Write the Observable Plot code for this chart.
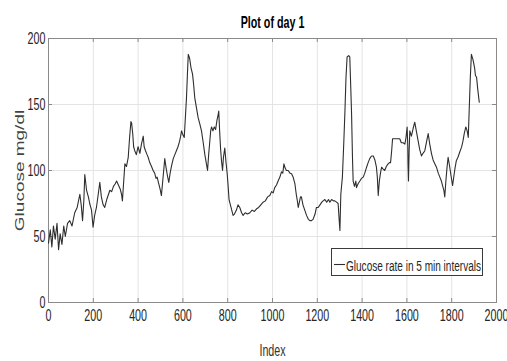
<!DOCTYPE html>
<html>
<head>
<meta charset="utf-8">
<script src="https://cdn.jsdelivr.net/npm/d3@7"></script>
<script src="https://cdn.jsdelivr.net/npm/@observablehq/plot@0.6"></script>
<style>
  html, body { margin: 0; padding: 0; background: white; }
  #chart { position: relative; width: 507px; height: 361px; }
</style>
</head>
<body>
<div id="chart"></div>
<script>
// ---- data ----
const sampleIndex = [
  0, 8, 15, 22, 30, 38, 45, 52, 60, 68, 75, 85, 95, 105, 117, 128, 140, 146, 152, 158,
  162, 170, 178, 184, 192, 199, 206, 214, 222, 229, 236, 244, 251, 260, 268, 274, 282, 290, 298, 304,
  312, 320, 326, 330, 335, 341, 348, 356, 362, 368, 371, 376, 380, 385, 392, 400, 408, 415, 423, 427,
  433, 440, 445, 452, 460, 467, 474, 480, 485, 492, 498, 504, 510, 519, 525, 531, 537, 543, 550, 557,
  564, 571, 578, 585, 590, 594, 600, 606, 611, 616, 620, 624, 630, 636, 643, 648, 653, 660, 668, 676,
  683, 690, 698, 704, 710, 715, 720, 724, 728, 734, 740, 746, 752, 757, 760, 764, 768, 772, 777, 781,
  787, 792, 798, 802, 806, 812, 818, 824, 830, 839, 846, 854, 862, 869, 878, 888, 899, 909, 919, 929,
  938, 948, 958, 968, 978, 988, 996, 1003, 1010, 1018, 1025, 1033, 1040, 1046, 1051, 1056, 1062, 1070, 1078, 1085,
  1092, 1100, 1106, 1110, 1115, 1120, 1125, 1129, 1136, 1144, 1152, 1160, 1167, 1174, 1181, 1190, 1196, 1204, 1212, 1220,
  1226, 1234, 1242, 1250, 1256, 1264, 1272, 1278, 1286, 1293, 1297, 1301, 1305, 1312, 1318, 1323, 1328, 1333, 1340, 1345,
  1349, 1353, 1357, 1360, 1366, 1372, 1375, 1382, 1390, 1397, 1405, 1412, 1420, 1427, 1434, 1442, 1450, 1457, 1464, 1468,
  1472, 1477, 1482, 1487, 1494, 1501, 1508, 1516, 1522, 1527, 1532, 1536, 1545, 1555, 1568, 1575, 1583, 1591, 1596, 1601,
  1604, 1605, 1607, 1610, 1613, 1620, 1628, 1635, 1642, 1650, 1657, 1665, 1672, 1680, 1688, 1695, 1702, 1710, 1717, 1725,
  1732, 1740, 1747, 1754, 1760, 1765, 1769, 1774, 1779, 1784, 1790, 1797, 1804, 1810, 1815, 1821, 1828, 1836, 1844, 1850,
  1856, 1863, 1869, 1874, 1878, 1883, 1888, 1895, 1902, 1906, 1911, 1916, 1923
];
const glucose = [
  45, 55, 42, 58, 48, 60, 40, 52, 44, 58, 50, 60, 62, 58, 68, 72, 82, 74, 62, 78,
  97, 85, 80, 75, 70, 57, 66, 72, 82, 91, 80, 74, 72, 78, 82, 85, 84, 88, 90, 92,
  89, 86, 82, 77, 90, 105, 103, 110, 125, 137, 136, 128, 118, 115, 112, 118, 113, 120, 126, 118,
  115, 112, 110, 106, 103, 100, 98, 94, 95, 90, 86, 81, 92, 109, 102, 96, 91, 98, 104, 109,
  112, 115, 118, 122, 126, 130, 127, 125, 140, 155, 172, 188, 185, 178, 173, 165, 155, 148, 140, 135,
  130, 122, 112, 106, 100, 112, 122, 130, 133, 130, 133, 131, 138, 142, 145, 130, 117, 108, 100, 110,
  117, 107, 97, 88, 78, 74, 70, 66, 67, 70, 74, 72, 68, 66, 68, 67, 68, 70, 69, 71,
  72, 74, 76, 77, 80, 81, 84, 83, 87, 89, 92, 95, 99, 98, 105, 102, 100, 100, 98, 97.5,
  95, 90, 82, 78, 72, 76, 80, 80, 74, 70, 66, 63, 62, 62, 63, 67, 72, 72, 74, 76,
  77, 78, 76, 78, 76, 78, 77, 77, 76, 75, 64, 54.5, 82, 95, 120, 143, 170, 186, 187, 186,
  165, 143, 110, 92, 88, 92, 87, 90, 92, 94, 95, 98, 102.5, 106, 109, 111, 111, 108, 102.5, 95,
  81, 92, 98, 102.5, 101, 100, 103, 105, 106, 106, 115, 124, 124, 124, 124, 121, 121, 120, 125, 133,
  118, 105, 92, 115, 130, 126, 132, 136.6, 130, 122.7, 116, 111, 113, 115, 122, 128, 120, 112.6, 108, 105,
  102.5, 98, 95, 92, 88, 85, 80, 92, 102, 110, 104, 96, 88.6, 96, 102, 107.6, 110, 114, 117.7, 122,
  128, 133, 130, 125, 145, 170, 188, 184, 178, 172, 170.7, 162, 151.7
];
const xTicks = [0, 200, 400, 600, 800, 1000, 1200, 1400, 1600, 1800, 2000];
const yTicks = [0, 50, 100, 150, 200];
const titleText = "Plot of day 1";
const xLabel = "Index";
const yLabel = "Glucose mg/dl";
const legendLabel = "Glucose rate in 5 min intervals";

const data = sampleIndex.map((i, k) => ({i, v: glucose[k]}));

const FONT = "'Liberation Sans', Arial, Helvetica, sans-serif";
const SX = 0.67; // horizontal squeeze of the reference's text

const chart = Plot.plot({
  width: 507,
  height: 361,
  marginLeft: 48,
  marginRight: 11,
  marginTop: 38,
  marginBottom: 59,
  style: {fontFamily: FONT, background: "white", color: "#262626", overflow: "visible"},
  x: {domain: [0, 2000]},
  y: {domain: [0, 200]},
  marks: [
    Plot.gridX(xTicks, {stroke: "#e4e4e4", strokeOpacity: 1}),
    Plot.gridY(yTicks, {stroke: "#e4e4e4", strokeOpacity: 1}),
    Plot.ruleX(xTicks, {x: d => d, y1: 0, y2: 3, stroke: "#8a8a8a"}),
    Plot.ruleX(xTicks, {x: d => d, y1: 197, y2: 200, stroke: "#8a8a8a"}),
    Plot.ruleY(yTicks, {y: d => d, x1: 0, x2: 18, stroke: "#8a8a8a"}),
    Plot.ruleY(yTicks, {y: d => d, x1: 1982, x2: 2000, stroke: "#8a8a8a"}),
    Plot.frame({stroke: "#8a8a8a"}),
    Plot.axisX(xTicks, {tickSize: 0, tickPadding: 7, fontSize: 16, label: null, tickFormat: d => String(d)}),
    Plot.axisY(yTicks, {tickSize: 0, tickPadding: 3, fontSize: 16, label: null, tickFormat: d => String(d)}),
    Plot.line(data, {x: "i", y: "v", stroke: "#2e2e2e", strokeWidth: 1.1}),
    Plot.text([titleText], {text: d => d, frameAnchor: "top", lineAnchor: "bottom", dy: -11,
      fontSize: 16, fontWeight: "bold", fill: "black"}),
    Plot.text([xLabel], {text: d => d, frameAnchor: "bottom", lineAnchor: "bottom", dy: 53,
      fontSize: 16, fill: "#333"}),
    Plot.text([yLabel], {text: d => d, frameAnchor: "left", rotate: -90, lineAnchor: "middle",
      textAnchor: "middle", dx: -29, fontSize: 19, fill: "#444"})
  ]
});

document.getElementById("chart").appendChild(chart);

// legend box (inside the plot area, lower right)
const svg = d3.select(chart);
const lg = svg.append("g").attr("class", "legend").attr("font-family", FONT);
lg.append("rect").attr("x", 331.5).attr("y", 248.5).attr("width", 151).attr("height", 27)
  .attr("fill", "white").attr("stroke", "#3a3a3a").attr("stroke-width", 1);
lg.append("line").attr("x1", 334).attr("x2", 345).attr("y1", 264.5).attr("y2", 264.5)
  .attr("stroke", "#2e2e2e").attr("stroke-width", 1.1);
lg.append("text").attr("x", 346).attr("y", 270.5).attr("font-size", 15).attr("fill", "#262626")
  .attr("text-anchor", "start")
  .text(legendLabel);

// squeeze every text horizontally, like the reference
function condense(t) {
  const xa = t.getAttribute("x"), ya = t.getAttribute("y");
  let tx = 0, ty = 0;
  if (xa != null && !/em/.test(xa)) { tx = +xa || 0; t.removeAttribute("x"); }
  if (ya != null && !/em/.test(ya)) { ty = +ya || 0; t.removeAttribute("y"); }
  const tr = t.getAttribute("transform") || "";
  const rotated = /rotate/.test(tr);
  t.setAttribute("transform", `${tr} translate(${tx},${ty}) ${rotated ? `scale(1,${SX})` : `scale(${SX},1)`}`);
}
chart.querySelectorAll("text").forEach(condense);
</script>
</body>
</html>
